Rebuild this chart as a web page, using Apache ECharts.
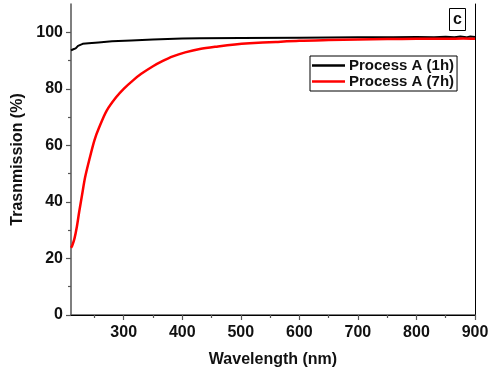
<!DOCTYPE html>
<html>
<head>
<meta charset="utf-8">
<script src="https://cdn.jsdelivr.net/npm/echarts@6/dist/echarts.min.js"></script>
<style>
  html, body { margin: 0; padding: 0; background: #fff; }
  #chart { width: 493px; height: 382px; }
</style>
</head>
<body>
<div id="chart"></div>
<script>
// Transmission spectra, wavelength in nm, transmission in %
const wavelength1h = [210, 212, 214, 216, 218, 220, 222, 225, 230, 240, 257, 280, 313, 350, 400, 430, 500, 600, 700, 760, 800, 830, 850, 865, 875, 885, 892, 900];
const transmission1h = [93.6, 93.3, 94.0, 93.6, 94.3, 94.8, 95.2, 95.6, 95.9, 96.1, 96.4, 96.8, 97.1, 97.4, 97.8, 97.9, 98.0, 98.1, 98.2, 98.2, 98.3, 98.2, 98.4, 98.2, 98.5, 98.2, 98.5, 98.3];

const wavelength7h = [210, 212, 216, 220, 224, 229, 234, 241, 250, 258, 271, 287, 300, 316, 330, 350, 366, 384, 405, 430, 461, 490, 515, 560, 600, 650, 700, 750, 800, 850, 880, 900];
const transmission7h = [23.8, 24.5, 27.1, 31.2, 36.5, 42.6, 48.6, 54.7, 61.8, 66.3, 72.3, 77.0, 80.0, 83.0, 85.3, 88.0, 89.8, 91.5, 92.9, 94.1, 95.0, 95.7, 96.1, 96.6, 97.0, 97.25, 97.45, 97.6, 97.7, 97.7, 97.8, 97.7];

const seriesNames = ['Process A (1h)', 'Process A (7h)'];
const xMajorTicks = [300, 400, 500, 600, 700, 800, 900];
const xMinorTicks = [250, 350, 450, 550, 650, 750, 850];
const yMajorTicks = [0, 20, 40, 60, 80, 100];
const yMinorTicks = [10, 30, 50, 70, 90];
const panelTag = 'c';

const xRange = [210, 900];
const yRange = [0, 110];

const pairUp = (xs, ys) => xs.map((x, i) => [x, ys[i]]);

const font = 'Liberation Sans, Arial, sans-serif';
const axisGrey = '#555';

const baseX = { type: 'value', min: xRange[0], max: xRange[1], gridIndex: 0 };
const baseY = { type: 'value', min: yRange[0], max: yRange[1], gridIndex: 0 };

const chart = echarts.init(document.getElementById('chart'));
chart.setOption({
  animation: false,
  backgroundColor: '#fff',
  grid: { left: 71, right: 18, top: 4, bottom: 67 },
  xAxis: [
    Object.assign({}, baseX, {
      position: 'bottom',
      name: 'Wavelength (nm)',
      nameLocation: 'middle',
      nameGap: 37,
      nameTextStyle: { fontFamily: font, fontWeight: 'bold', fontSize: 16, color: '#111' },
      axisLine: { show: true, lineStyle: { color: axisGrey, width: 1.5 } },
      axisTick: { show: true, inside: false, length: 5, customValues: xMajorTicks, lineStyle: { color: axisGrey, width: 1.2 } },
      axisLabel: { customValues: xMajorTicks, margin: 10, fontFamily: font, fontWeight: 'bold', fontSize: 16, color: '#111' },
      splitLine: { show: false }
    }),
    Object.assign({}, baseX, {
      position: 'bottom',
      axisLine: { show: false },
      axisTick: { show: true, length: 3, customValues: xMinorTicks, lineStyle: { color: axisGrey, width: 1.2 } },
      axisLabel: { show: false },
      splitLine: { show: false }
    }),
    Object.assign({}, baseX, {
      position: 'top',
      axisLine: { show: true, lineStyle: { color: '#000', width: 1 } },
      axisTick: { show: false },
      axisLabel: { show: false },
      splitLine: { show: false }
    })
  ],
  yAxis: [
    Object.assign({}, baseY, {
      position: 'left',
      name: 'Trasnmission (%)',
      nameLocation: 'middle',
      nameGap: 44,
      nameTextStyle: { fontFamily: font, fontWeight: 'bold', fontSize: 16, color: '#111' },
      axisLine: { show: true, lineStyle: { color: axisGrey, width: 1.5 } },
      axisTick: { show: true, inside: false, length: 5, customValues: yMajorTicks, lineStyle: { color: axisGrey, width: 1.2 } },
      axisLabel: { customValues: yMajorTicks, margin: 8, fontFamily: font, fontWeight: 'bold', fontSize: 16, color: '#111' },
      splitLine: { show: false }
    }),
    Object.assign({}, baseY, {
      position: 'left',
      axisLine: { show: false },
      axisTick: { show: true, length: 3, customValues: yMinorTicks, lineStyle: { color: axisGrey, width: 1.2 } },
      axisLabel: { show: false },
      splitLine: { show: false }
    }),
    Object.assign({}, baseY, {
      position: 'right',
      axisLine: { show: true, lineStyle: { color: '#000', width: 1 } },
      axisTick: { show: false },
      axisLabel: { show: false },
      splitLine: { show: false }
    })
  ],
  legend: {
    orient: 'vertical',
    left: 310,
    top: 56,
    padding: [2, 3, 2, 2],
    icon: 'rect',
    itemGap: 1,
    itemWidth: 33,
    itemHeight: 2.5,
    borderColor: '#000',
    borderWidth: 1,
    borderRadius: 0,
    textStyle: { fontFamily: font, fontWeight: 'bold', fontSize: 15, color: '#111', padding: [0, 0, 0, -1] },
    data: seriesNames
  },
  graphic: [
    {
      type: 'group',
      left: 449,
      top: 8,
      children: [
        { type: 'rect', shape: { x: 0, y: 0, width: 16, height: 22 }, style: { fill: '#fff', stroke: '#000', lineWidth: 1 } },
        { type: 'text', x: 8, y: 11, style: { text: panelTag, font: 'bold 16px ' + font, fill: '#111', align: 'center', verticalAlign: 'middle' } }
      ]
    }
  ],
  series: [
    {
      name: seriesNames[0],
      type: 'line',
      xAxisIndex: 0,
      yAxisIndex: 0,
      symbol: 'none',
      lineStyle: { color: '#000', width: 2 },
      itemStyle: { color: '#000' },
      data: pairUp(wavelength1h, transmission1h)
    },
    {
      name: seriesNames[1],
      type: 'line',
      xAxisIndex: 0,
      yAxisIndex: 0,
      symbol: 'none',
      smooth: 0.3,
      lineStyle: { color: '#ff0000', width: 2.5 },
      itemStyle: { color: '#ff0000' },
      data: pairUp(wavelength7h, transmission7h)
    }
  ]
});
</script>
</body>
</html>
